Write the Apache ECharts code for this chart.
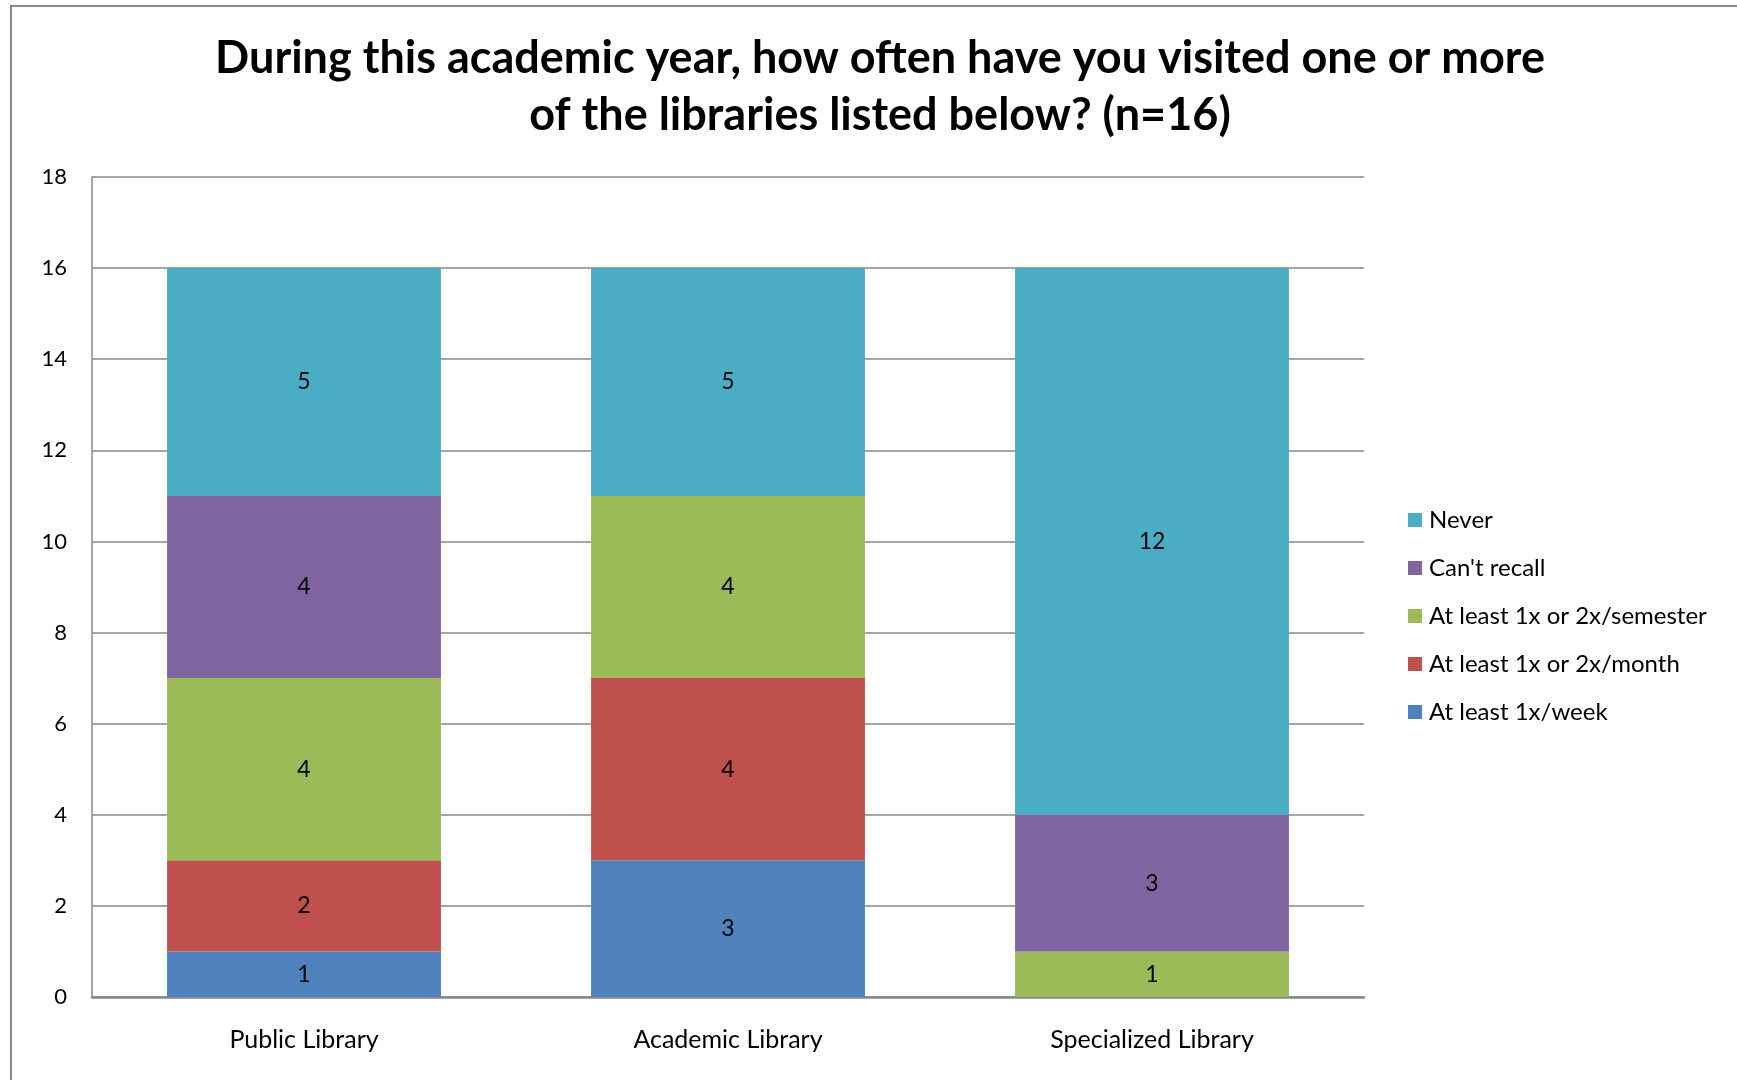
<!DOCTYPE html>
<html>
<head>
<meta charset="utf-8">
<script src="https://cdn.jsdelivr.net/npm/echarts@6/dist/echarts.min.js"></script>
<style>
  html, body { margin: 0; padding: 0; background: #fff; }
  #chart { width: 1737px; height: 1080px; }
</style>
</head>
<body>
<div id="chart"></div>
<script>
// Library types along the x axis
const categories = ['Public Library', 'Academic Library', 'Specialized Library'];

// Visit frequency counts per library type (stacked bottom to top)
const atLeastWeekly   = [1, 3, 0];
const atLeastMonthly  = [2, 4, 0];
const atLeastSemester = [4, 4, 1];
const cantRecall      = [4, 0, 3];
const never           = [5, 5, 12];

const seriesNames = [
  'At least 1x/week',
  'At least 1x or 2x/month',
  'At least 1x or 2x/semester',
  "Can't recall",
  'Never'
];
const seriesValues = [atLeastWeekly, atLeastMonthly, atLeastSemester, cantRecall, never];
const seriesColors = ['#4F81BD', '#C0504D', '#9BBB59', '#8064A2', '#4BACC6'];

const FONT = 'Lato, "Open Sans", sans-serif';

const chart = echarts.init(document.getElementById('chart'));

const series = seriesNames.map((name, i) => ({
  name: name,
  type: 'bar',
  stack: 'visits',
  barWidth: '64.6%',
  itemStyle: { color: seriesColors[i] },
  label: {
    show: true,
    position: 'inside',
    color: '#000',
    fontFamily: FONT,
    fontSize: 23,
    formatter: p => (p.value ? String(p.value) : '')
  },
  emphasis: { disabled: true },
  data: seriesValues[i]
}));

chart.setOption({
  animation: false,
  backgroundColor: '#fff',
  title: {
    text: 'During this academic year, how often have you visited one or more\nof the libraries listed below? (n=16)',
    left: 875,
    top: 25,
    textAlign: 'center',
    textStyle: {
      fontFamily: FONT,
      fontWeight: 'bold',
      fontSize: 45,
      lineHeight: 57,
      color: '#000'
    }
  },
  legend: {
    orient: 'vertical',
    left: 1403,
    top: 503,
    itemWidth: 14,
    itemHeight: 14,
    itemGap: 24,
    icon: 'rect',
    data: ['Never', "Can't recall", 'At least 1x or 2x/semester', 'At least 1x or 2x/month', 'At least 1x/week'],
    textStyle: { fontFamily: FONT, fontSize: 24, color: '#000', padding: [0, 0, 0, 2] }
  },
  grid: { left: 92, right: 373, top: 177, bottom: 83, containLabel: false },
  xAxis: {
    type: 'category',
    data: categories,
    axisLine: { show: true, lineStyle: { color: '#878787', width: 2.5 } },
    axisTick: { show: false },
    axisLabel: { fontFamily: FONT, fontSize: 25, color: '#000', margin: 30 }
  },
  yAxis: {
    type: 'value',
    min: 0,
    max: 18,
    interval: 2,
    axisLine: { show: true, lineStyle: { color: '#878787', width: 1.5 } },
    axisTick: { show: false },
    splitLine: { show: true, lineStyle: { color: '#878787', width: 1.5 } },
    axisLabel: { fontFamily: FONT, fontSize: 22, color: '#000', margin: 25 }
  },
  graphic: [{
    type: 'rect',
    silent: true,
    z: -1,
    shape: { x: 11, y: 6, width: 1800, height: 1200 },
    style: { fill: 'none', stroke: '#878787', lineWidth: 2 }
  }],
  series: series
});
</script>
</body>
</html>
